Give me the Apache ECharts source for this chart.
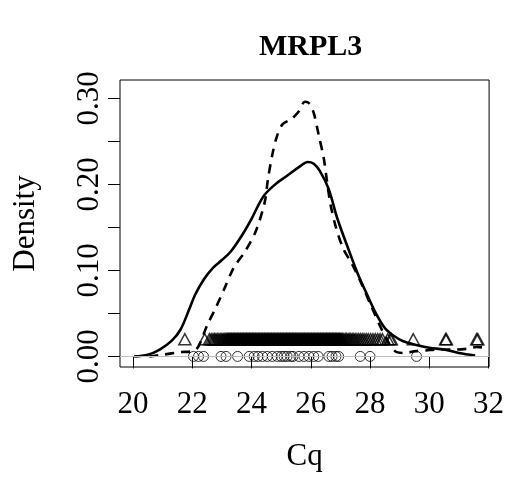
<!DOCTYPE html>
<html>
<head>
<meta charset="utf-8">
<script src="https://cdn.jsdelivr.net/npm/echarts@6/dist/echarts.min.js"></script>
<style>html,body{margin:0;padding:0;background:#fff}#c{width:507px;height:477px}</style>
</head>
<body>
<div id="c"></div>
<script>
const titleText = 'MRPL3';
const xName = 'Cq';
const yName = 'Density';
const xTicks = [20, 22, 24, 26, 28, 30, 32];
const yTicks = [0, 0.05, 0.10, 0.15, 0.20, 0.25, 0.30];
const yLabels = [0, 0.10, 0.20, 0.30];

const solidX = [20.04, 20.5, 20.9, 21.3, 21.6, 21.9, 22.1, 22.4, 22.7, 23.0, 23.3, 23.7, 24.0, 24.4, 24.8, 25.2, 25.6, 25.9, 26.1, 26.3, 26.6, 26.9, 27.3, 27.6, 27.9, 28.2, 28.5, 28.8, 29.1, 29.6, 30.0, 30.5, 31.0, 31.55];
const solidY = [0.000, 0.002, 0.008, 0.018, 0.031, 0.055, 0.072, 0.090, 0.103, 0.112, 0.122, 0.142, 0.160, 0.186, 0.200, 0.210, 0.220, 0.226, 0.224, 0.216, 0.195, 0.160, 0.122, 0.095, 0.072, 0.050, 0.033, 0.024, 0.018, 0.013, 0.010, 0.008, 0.004, 0.001];

const dashX = [20.55, 21.0, 21.6, 22.0, 22.2, 22.5, 22.8, 23.1, 23.4, 23.8, 24.15, 24.45, 24.55, 24.7, 24.85, 25.05, 25.35, 25.6, 25.8, 25.95, 26.1, 26.27, 26.44, 26.55, 26.67, 26.85, 27.1, 27.4, 27.72, 28.06, 28.4, 28.7, 28.9, 29.2, 29.5, 29.9, 30.3, 30.9, 31.3, 31.6, 31.9];
const dashY = [0.000, 0.002, 0.005, 0.006, 0.011, 0.036, 0.057, 0.080, 0.103, 0.123, 0.146, 0.180, 0.205, 0.234, 0.255, 0.270, 0.276, 0.285, 0.296, 0.294, 0.283, 0.257, 0.230, 0.203, 0.176, 0.150, 0.125, 0.107, 0.084, 0.057, 0.031, 0.012, 0.005, 0.004, 0.006, 0.007, 0.008, 0.008, 0.009, 0.011, 0.010];

const circleX = [22.04, 22.21, 22.38, 22.97, 23.14, 23.53, 23.92, 24.09, 24.22, 24.37, 24.53, 24.70, 24.87, 25.00, 25.10, 25.20, 25.33, 25.40, 25.60, 25.77, 25.94, 26.10, 26.25, 26.61, 26.72, 26.85, 26.94, 27.67, 28.00, 29.57];
const circleLevel = 0;

const triangleX = [21.75, 22.42,
  22.58, 22.64, 22.70, 22.75, 22.80, 22.85, 22.90, 22.95, 23.00, 23.04, 23.08, 23.12, 23.16, 23.19,
  23.22, 23.24, 23.27, 23.29, 23.32, 23.34, 23.37, 23.39, 23.42, 23.44, 23.47, 23.49, 23.52, 23.54, 23.57, 23.59,
  23.62, 23.64, 23.67, 23.69, 23.72, 23.74, 23.77, 23.79, 23.82, 23.84, 23.87, 23.89, 23.92, 23.94, 23.97, 23.99,
  24.02, 24.04, 24.07, 24.09, 24.12, 24.14, 24.17, 24.19, 24.22, 24.24, 24.27, 24.29, 24.32, 24.34, 24.37, 24.39,
  24.42, 24.44, 24.47, 24.49, 24.52, 24.54, 24.57, 24.59, 24.62, 24.64, 24.67, 24.69, 24.72, 24.74, 24.77, 24.79,
  24.82, 24.84, 24.87, 24.89, 24.92, 24.94, 24.97, 24.99, 25.02, 25.04, 25.07, 25.09, 25.12, 25.14, 25.17, 25.19,
  25.22, 25.24, 25.27, 25.29, 25.32, 25.34, 25.37, 25.39, 25.42, 25.44, 25.47, 25.49, 25.52, 25.54, 25.57, 25.59,
  25.62, 25.64, 25.67, 25.69, 25.72, 25.74, 25.77, 25.79, 25.82, 25.84, 25.87, 25.89, 25.92, 25.94, 25.97, 25.99,
  26.02, 26.04, 26.07, 26.09, 26.12, 26.14, 26.17, 26.19, 26.22, 26.24, 26.27, 26.29, 26.32, 26.34, 26.37, 26.39,
  26.42, 26.44, 26.47, 26.49, 26.52, 26.54, 26.57, 26.59, 26.62, 26.64, 26.67, 26.69, 26.72, 26.74, 26.77, 26.79,
  26.82, 26.84, 26.87, 26.89, 26.92, 26.94, 26.97, 26.99, 27.02, 27.05,
  27.08, 27.12, 27.17, 27.21, 27.26, 27.30, 27.35, 27.40, 27.45, 27.50, 27.56, 27.62, 27.68, 27.74, 27.80, 27.87,
  27.94, 28.02, 28.10, 28.18, 28.26, 28.34, 28.42,
  28.60, 28.68, 28.72, 29.46, 30.55, 30.58, 31.60, 31.64];
const triangleLevel = 0.02;

const serif = '"Liberation Serif", "DejaVu Serif", serif';
const chart = echarts.init(document.getElementById('c'), null, {renderer: 'canvas'});

chart.setOption({
  animation: false,
  backgroundColor: '#ffffff',
  title: {
    text: titleText,
    left: 254,
    top: 27,
    textStyle: {fontFamily: serif, fontWeight: 'bold', fontSize: 30, color: '#000'}
  },
  grid: {left: 120, right: 15, top: 80, bottom: 107, show: true, borderColor: '#000', borderWidth: 1, backgroundColor: 'transparent'},
  xAxis: {
    type: 'value', min: 19.56, max: 32.02,
    name: xName, nameLocation: 'middle', nameGap: 74,
    nameTextStyle: {fontFamily: serif, fontSize: 31, color: '#000'},
    axisLine: {show: false},
    splitLine: {show: false},
    axisTick: {show: true, inside: false, length: 12, customValues: xTicks, lineStyle: {color: '#000', width: 1}},
    axisLabel: {customValues: xTicks, fontFamily: serif, fontSize: 31, color: '#000', margin: 22, showMinLabel: true, showMaxLabel: true}
  },
  yAxis: {
    type: 'value', min: -0.0123, max: 0.3213,
    name: yName, nameLocation: 'middle', nameGap: 79,
    nameTextStyle: {fontFamily: serif, fontSize: 31, color: '#000'},
    axisLine: {show: false},
    splitLine: {show: false},
    axisTick: {show: true, inside: false, length: 12, customValues: yTicks, lineStyle: {color: '#000', width: 1}},
    axisLabel: {customValues: yLabels, rotate: 90, fontFamily: serif, fontSize: 31, color: '#000', margin: 15,
      formatter: v => v.toFixed(2)}
  },
  series: [
    {
      type: 'line', data: solidX.map((x, i) => [x, solidY[i]]), showSymbol: false, smooth: 0.35,
      lineStyle: {color: '#000', width: 2.6, type: 'solid'}, z: 3, silent: true
    },
    {
      type: 'line', data: dashX.map((x, i) => [x, dashY[i]]), showSymbol: false, smooth: 0.3,
      lineStyle: {color: '#000', width: 2.6, type: [9, 7]}, z: 3, silent: true
    },
    {
      type: 'scatter', data: circleX.map(x => [x, circleLevel]), symbol: 'circle', symbolSize: 10,
      itemStyle: {color: 'rgba(0,0,0,0)', borderColor: '#000', borderWidth: 1}, z: 2, silent: true,
      markLine: {silent: true, symbol: ['none', 'none'], label: {show: false},
        lineStyle: {color: '#bebebe', width: 1, type: 'solid'}, data: [{yAxis: 0}]}
    },
    {
      type: 'scatter', data: triangleX.map(x => [x, triangleLevel]), symbol: 'triangle', symbolSize: [12, 11],
      itemStyle: {color: 'rgba(0,0,0,0)', borderColor: '#000', borderWidth: 1.5}, z: 2, silent: true
    }
  ]
});
</script>
</body>
</html>
